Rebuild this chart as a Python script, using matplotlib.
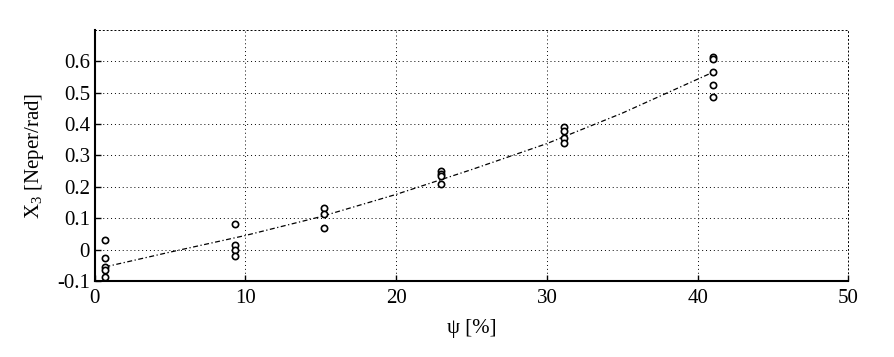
import matplotlib
matplotlib.use("Agg")
import matplotlib.pyplot as plt

plt.rcParams["font.family"] = ["Liberation Serif", "DejaVu Serif"]
plt.rcParams["mathtext.fontset"] = "custom"
plt.rcParams["mathtext.rm"] = "Liberation Serif"

# measured points (psi in %, X3 in Neper/rad)
psi = [0.7] * 5 + [9.3] * 4 + [15.2] * 3 + [23.0] * 4 + [31.1] * 4 + [41.0] * 5
x3 = [0.032, -0.026, -0.055, -0.064, -0.086,
      0.080, 0.016, 0.000, -0.022,
      0.131, 0.112, 0.070,
      0.250, 0.240, 0.236, 0.210,
      0.390, 0.377, 0.355, 0.339,
      0.615, 0.607, 0.565, 0.524, 0.486]

# fitted curve
fit_psi = [0.7, 5, 10, 15, 20, 25, 30, 35, 41]
fit_x3 = [-0.055, -0.008, 0.045, 0.105, 0.176, 0.255, 0.338, 0.435, 0.565]

fig = plt.figure(figsize=(8.94, 3.57), dpi=100)
ax = fig.add_axes([0.106, 0.213, 0.843, 0.703])

ax.plot(fit_psi, fit_x3, color="black", ls="-.", lw=0.9, dashes=(4, 2, 1, 2))
ax.plot(psi, x3, ls="none", marker="o", ms=4.5, mfc="white", mec="black", mew=1.2)

ax.set_xlim(0, 50)
ax.set_ylim(-0.1, 0.7)
ax.set_xticks([0, 10, 20, 30, 40, 50])
ax.set_yticks([-0.1, 0, 0.1, 0.2, 0.3, 0.4, 0.5, 0.6])
ax.set_yticklabels(["-0.1", "0", "0.1", "0.2", "0.3", "0.4", "0.5", "0.6"])
ax.grid(True, color="black", ls=(0, (1, 3)), lw=0.7)
ax.tick_params(direction="in", length=4, labelsize=15, width=1)
ax.tick_params(axis="x", pad=6)
for side in ("top", "right"):
    ax.spines[side].set_linestyle((0, (1, 3)))
    ax.spines[side].set_linewidth(0.7)
for side in ("left", "bottom"):
    ax.spines[side].set_linewidth(1.5)

ax.set_xlabel("ψ [%]", fontsize=15, labelpad=8)
ax.set_ylabel("X$_3$ [Neper/rad]", fontsize=15, labelpad=8)

fig.savefig("out.png", dpi=100)
